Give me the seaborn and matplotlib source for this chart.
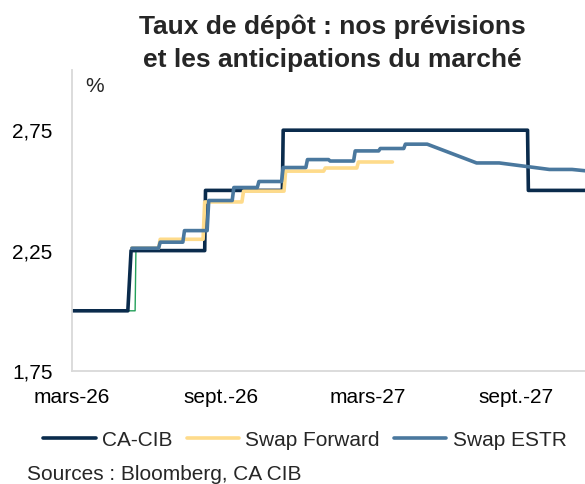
import pandas as pd
import matplotlib
matplotlib.use("Agg")
import matplotlib.pyplot as plt
import seaborn as sns
from matplotlib.lines import Line2D

# Taux de depot (%) - vertices
cacib_dates = ["2026-03-01", "2026-05-09", "2026-05-13", "2026-08-12", "2026-08-13",
               "2026-11-16", "2026-11-17", "2027-09-15", "2027-09-16", "2027-12-15"]
cacib_vals = [2.00, 2.00, 2.25, 2.25, 2.50, 2.50, 2.75, 2.75, 2.50, 2.50]

fwd_dates = ["2026-05-14", "2026-06-16", "2026-06-18", "2026-08-10", "2026-08-12",
             "2026-09-27", "2026-09-29", "2026-11-18", "2026-11-20", "2027-01-06",
             "2027-01-08", "2027-02-16", "2027-02-18", "2027-04-01"]
fwd_vals = [2.26, 2.26, 2.297, 2.297, 2.452, 2.452, 2.497, 2.497, 2.58, 2.58,
            2.593, 2.593, 2.618, 2.618]

estr_dates = ["2026-05-14", "2026-06-16", "2026-06-18", "2026-07-16", "2026-07-18",
              "2026-08-15", "2026-08-17", "2026-09-15", "2026-09-17", "2026-10-16",
              "2026-10-18", "2026-11-15", "2026-11-17", "2026-12-15", "2026-12-17",
              "2027-01-12", "2027-01-14", "2027-02-12", "2027-02-14", "2027-03-15",
              "2027-03-17", "2027-04-15", "2027-04-17", "2027-05-14", "2027-07-14",
              "2027-08-11", "2027-10-12", "2027-11-09", "2027-12-15"]
estr_vals = [2.26, 2.26, 2.285, 2.285, 2.333, 2.333, 2.458, 2.458, 2.512, 2.512,
             2.537, 2.537, 2.595, 2.595, 2.628, 2.628, 2.622, 2.622, 2.664, 2.664,
             2.674, 2.674, 2.692, 2.692, 2.614, 2.614, 2.587, 2.587, 2.575]

# thin green series mostly hidden under CA-CIB
green_dates = ["2026-03-01", "2026-05-18", "2026-05-19", "2026-08-12"]
green_vals = [2.00, 2.00, 2.25, 2.25]

tick_dates = ["2026-03-01", "2026-09-01", "2027-03-01", "2027-09-01"]
tick_labels = ["mars-26", "sept.-26", "mars-27", "sept.-27"]
y_ticks = [1.75, 2.25, 2.75]
y_labels = ["1,75", "2,25", "2,75"]

NAVY = "#0a2b4c"
YELLOW = "#fedb8b"
STEEL = "#4a789e"
GREEN = "#23a05a"

sns.set_theme(style="white")
plt.rcParams["font.family"] = ["Liberation Sans", "DejaVu Sans"]

fig = plt.figure(figsize=(5.85, 4.84), dpi=100)
ax = fig.add_axes([72 / 585, 113 / 484, 513 / 585, 301 / 484])

series = [
    (green_dates, green_vals, GREEN, 1.0),
    (cacib_dates, cacib_vals, NAVY, 2.6),
    (fwd_dates, fwd_vals, YELLOW, 2.6),
    (estr_dates, estr_vals, STEEL, 2.6),
]
for d, v, c, lw in series:
    df = pd.DataFrame({"date": pd.to_datetime(d), "val": v})
    sns.lineplot(data=df, x="date", y="val", ax=ax, color=c, linewidth=lw,
                 estimator=None, sort=False, legend=False)

ax.set_xlim(pd.Timestamp("2026-03-01"), pd.Timestamp("2027-11-25"))
ax.set_ylim(1.75, 3.0)
ax.set_yticks(y_ticks)
ax.set_yticklabels(y_labels)
ax.set_xticks(pd.to_datetime(tick_dates))
ax.set_xticklabels(tick_labels)
ax.set_xlabel("")
ax.set_ylabel("")
ax.tick_params(length=0, labelsize=15, colors="black")
ax.tick_params(axis="y", pad=14)
ax.tick_params(axis="x", pad=12)

for s in ["top", "right"]:
    ax.spines[s].set_visible(False)
for s in ["left", "bottom"]:
    ax.spines[s].set_color("#d9d9d9")
    ax.spines[s].set_linewidth(1.3)

fig.text(0.5675, 1 - 34 / 484, "Taux de dépôt : nos prévisions", ha="center",
         va="baseline", fontsize=19, fontweight="bold")
fig.text(0.5675, 1 - 67 / 484, "et les anticipations du marché", ha="center",
         va="baseline", fontsize=19, fontweight="bold")
fig.text(85 / 585, 1 - 92 / 484, "%", fontsize=15, va="baseline")

handles = [Line2D([], [], color=NAVY, lw=2.6),
           Line2D([], [], color=YELLOW, lw=2.6),
           Line2D([], [], color=STEEL, lw=2.6)]
fig.legend(handles, ["CA-CIB", "Swap Forward", "Swap ESTR"], loc="center",
           bbox_to_anchor=(305 / 585, 1 - 440 / 484), ncol=3, frameon=False,
           fontsize=15, handlelength=2.5, handletextpad=0.3, columnspacing=0.7)

fig.text(27 / 585, 1 - 474 / 484, "Sources : Bloomberg, CA CIB", fontsize=15,
         va="center")

fig.savefig("out.png", dpi=100)
